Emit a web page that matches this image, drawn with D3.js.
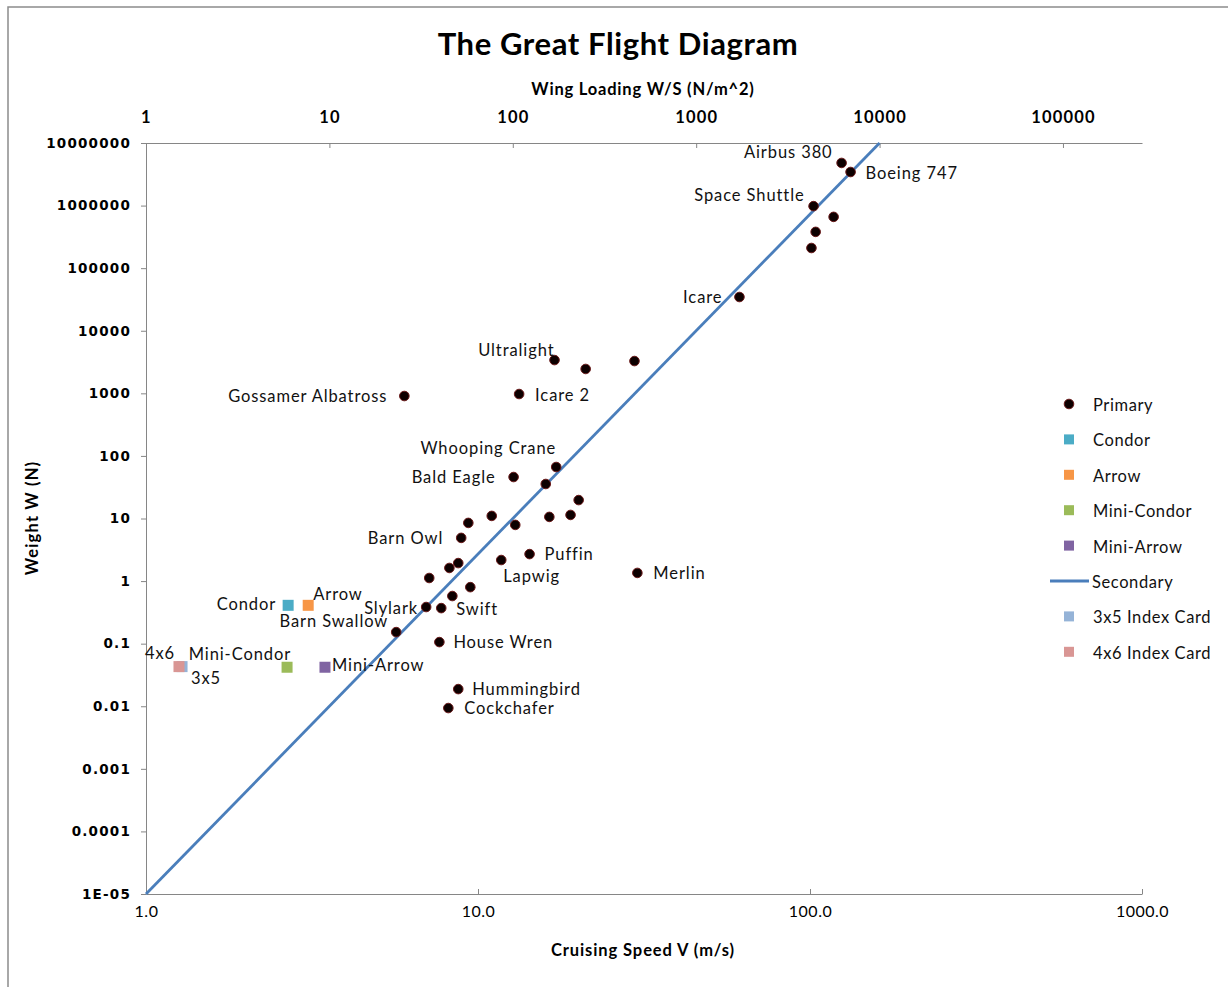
<!DOCTYPE html>
<html>
<head>
<meta charset="utf-8">
<script src="https://cdn.jsdelivr.net/npm/d3@7"></script>
<style>
  html, body { margin: 0; padding: 0; background: #fff; }
  svg { display: block; }
</style>
</head>
<body>
<svg id="chart" width="1228" height="987"></svg>
<script>
// ---------------- DATA ----------------
const primaryNames = [
  "Airbus 380", "Boeing 747", "Space Shuttle", "", "", "", "Icare",
  "Ultralight", "", "", "Icare 2", "Gossamer Albatross",
  "Whooping Crane", "Bald Eagle", "", "", "", "", "", "", "",
  "Barn Owl", "Puffin", "Lapwig", "", "", "", "", "", "Merlin",
  "Slylark", "Swift", "Barn Swallow", "House Wren", "Hummingbird", "Cockchafer"
];
const primarySpeed = [
  124.5, 132.5, 102.5, 117.8, 104, 101, 61.3,
  17.0, 21.1, 29.6, 13.3, 6.0,
  17.2, 12.8, 16.0, 20.1, 16.4, 19.0, 11.0, 9.35, 12.95,
  8.9, 14.3, 11.75, 8.72, 8.2, 7.13, 9.48, 8.37, 30.2,
  6.98, 7.75, 5.67, 7.65, 8.72, 8.14
];
const primaryWeight = [
  4.8e6, 3.44e6, 9.8e5, 6.6e5, 3.8e5, 2.1e5, 3.46e4,
  3400, 2450, 3280, 975, 906,
  66.5, 46, 35.6, 19.7, 10.6, 11.4, 11.0, 8.5, 7.9,
  4.9, 2.7, 2.17, 1.94, 1.62, 1.12, 0.80, 0.577, 1.35,
  0.385, 0.37, 0.153, 0.106, 0.0188, 0.00936
];

const condorSpeed = [2.68],      condorWeight = [0.41];
const arrowSpeed = [3.08],       arrowWeight = [0.41];
const miniCondorSpeed = [2.66],  miniCondorWeight = [0.042];
const miniArrowSpeed = [3.46],   miniArrowWeight = [0.042];
const card3x5Speed = [1.284],    card3x5Weight = [0.043];
const card4x6Speed = [1.257],    card4x6Weight = [0.043];

// Secondary series: wing loading (top axis) vs weight
const secondaryWingLoading = [1, 10000];
const secondaryWeight = [1e-5, 1e7];

const bottomTicks = [1, 10, 100, 1000];
const bottomTickLabels = ["1.0", "10.0", "100.0", "1000.0"];
const topTicks = [1, 10, 100, 1000, 10000, 100000];
const topTickLabels = ["1", "10", "100", "1000", "10000", "100000"];
const yTicks = [1e7, 1e6, 1e5, 1e4, 1e3, 100, 10, 1, 0.1, 0.01, 0.001, 0.0001, 1e-5];
const yTickLabels = ["10000000", "1000000", "100000", "10000", "1000", "100", "10", "1",
                     "0.1", "0.01", "0.001", "0.0001", "1E-05"];

const legendNames = ["Primary", "Condor", "Arrow", "Mini-Condor", "Mini-Arrow",
                     "Secondary", "3x5 Index Card", "4x6 Index Card"];

// ---------------- LAYOUT / STYLE ----------------
const colors = {
  Condor: "#4bacc6", Arrow: "#f79646", "Mini-Condor": "#9bbb59",
  "Mini-Arrow": "#8064a2", Secondary: "#4a7ebb",
  "3x5 Index Card": "#95b3d7", "4x6 Index Card": "#d99694"
};
const labelPlacement = {
  "Airbus 380": ["end", -9, -11], "Boeing 747": ["start", 15, 1],
  "Space Shuttle": ["end", -9, -11], "Icare": ["end", -17, 0],
  "Ultralight": ["end", 0, -10], "Icare 2": ["start", 16, 1],
  "Gossamer Albatross": ["end", -17, 0], "Whooping Crane": ["end", 0, -19],
  "Bald Eagle": ["end", -18, 0], "Barn Owl": ["end", -18, 0],
  "Puffin": ["start", 15, 0], "Lapwig": ["start", 2, 16],
  "Merlin": ["start", 16, 0], "Slylark": ["end", -8, 1],
  "Swift": ["start", 15, 1], "Barn Swallow": ["end", -8, -11],
  "House Wren": ["start", 14, 0], "Hummingbird": ["start", 14, 0],
  "Cockchafer": ["start", 16, 0],
  "Condor": ["end", -12, -1], "Arrow": ["start", 5, -11],
  "Mini-Condor": ["end", 4, -13], "Mini-Arrow": ["start", 7, -2],
  "4x6": ["end", -4, -14], "3x5": ["start", 9, 11]
};

const plot = { left: 146, right: 1142, top: 143, bottom: 894 };
const svg = d3.select("#chart");
const labelFont = "Lato, 'Open Sans', sans-serif";

const x = d3.scaleLog().domain([1, 1000]).range([plot.left, plot.right]);
const xTop = d3.scaleLog().domain([1, Math.pow(10, 5.431)]).range([plot.left, plot.right]);
const y = d3.scaleLog().domain([1e-5, 1e7]).range([plot.bottom, plot.top]);

// outer border
svg.append("rect").attr("x", 8).attr("y", 7).attr("width", 1240).attr("height", 1000)
  .attr("fill", "#fff").attr("stroke", "#8c8c8c").attr("stroke-width", 1.5);

// title
svg.append("text").attr("x", 618).attr("y", 55).attr("text-anchor", "middle")
  .attr("font-family", labelFont).attr("font-weight", "bold").attr("font-size", 31)
  .attr("letter-spacing", 0.6).attr("fill", "#000").text("The Great Flight Diagram");

// Axes
const axisColor = "#868686";
function styleAxis(g) {
  g.select(".domain").attr("stroke", axisColor).attr("stroke-width", 1);
  g.selectAll(".tick line").attr("stroke", axisColor);
}
const bottomAxis = d3.axisBottom(x).tickValues(bottomTicks)
  .tickFormat((d, i) => bottomTickLabels[i]).tickSizeInner(-5).tickSizeOuter(0).tickPadding(12);
svg.append("g").attr("transform", `translate(0,${plot.bottom})`).call(bottomAxis)
  .call(styleAxis)
  .call(g => g.selectAll("text").attr("font-family", labelFont).attr("font-size", 16)
    .attr("letter-spacing", 0.5).attr("fill", "#000"));

const topAxis = d3.axisTop(xTop).tickValues(topTicks)
  .tickFormat((d, i) => topTickLabels[i]).tickSizeInner(-5).tickSizeOuter(0).tickPadding(20);
svg.append("g").attr("transform", `translate(0,${plot.top})`).call(topAxis)
  .call(styleAxis)
  .call(g => g.selectAll("text").attr("font-family", labelFont).attr("font-weight", "bold")
    .attr("font-size", 16.5).attr("letter-spacing", 1.2).attr("fill", "#000"));

const leftAxis = d3.axisLeft(y).tickValues(yTicks)
  .tickFormat((d, i) => yTickLabels[i]).tickSizeInner(5).tickSizeOuter(0).tickPadding(10);
svg.append("g").attr("transform", `translate(${plot.left},0)`).call(leftAxis)
  .call(styleAxis)
  .call(g => g.selectAll("text").attr("font-family", "'DejaVu Sans', sans-serif")
    .attr("font-weight", "bold").attr("font-size", 13.5).attr("letter-spacing", 1.2)
    .attr("fill", "#000"));

// axis titles
svg.append("text").attr("x", 643).attr("y", 95).attr("text-anchor", "middle")
  .attr("font-family", labelFont).attr("font-weight", "bold").attr("font-size", 16.5)
  .attr("letter-spacing", 0.8).text("Wing Loading W/S (N/m^2)");
svg.append("text").attr("x", 643).attr("y", 956).attr("text-anchor", "middle")
  .attr("font-family", labelFont).attr("font-weight", "bold").attr("font-size", 16.5)
  .attr("letter-spacing", 0.9).text("Cruising Speed V (m/s)");
svg.append("text").attr("transform", "translate(38,518) rotate(-90)").attr("text-anchor", "middle")
  .attr("font-family", labelFont).attr("font-weight", "bold").attr("font-size", 16.5)
  .attr("letter-spacing", 1.2).text("Weight W (N)");

// Secondary line (top axis)
const lineData = secondaryWingLoading.map((d, i) => [d, secondaryWeight[i]]);
svg.append("path").datum(lineData)
  .attr("d", d3.line().x(d => xTop(d[0])).y(d => y(d[1])))
  .attr("fill", "none").attr("stroke", colors.Secondary).attr("stroke-width", 2.8);

// Primary points
const primary = primaryNames.map((n, i) => ({ name: n, v: primarySpeed[i], w: primaryWeight[i] }));
svg.append("g").selectAll("circle").data(primary).join("circle")
  .attr("cx", d => x(d.v)).attr("cy", d => y(d.w)).attr("r", 4.8)
  .attr("fill", "#0d0000").attr("stroke", "#6b1a1a").attr("stroke-width", 1);

// Square series
const squareSeries = [
  { name: "Condor", label: "Condor", v: condorSpeed, w: condorWeight },
  { name: "Arrow", label: "Arrow", v: arrowSpeed, w: arrowWeight },
  { name: "Mini-Condor", label: "Mini-Condor", v: miniCondorSpeed, w: miniCondorWeight },
  { name: "Mini-Arrow", label: "Mini-Arrow", v: miniArrowSpeed, w: miniArrowWeight },
  { name: "3x5 Index Card", label: "3x5", v: card3x5Speed, w: card3x5Weight },
  { name: "4x6 Index Card", label: "4x6", v: card4x6Speed, w: card4x6Weight }
];
const sq = 11;
squareSeries.forEach(s => {
  s.v.forEach((v, i) => {
    svg.append("rect").attr("x", x(v) - sq / 2).attr("y", y(s.w[i]) - sq / 2)
      .attr("width", sq).attr("height", sq).attr("fill", colors[s.name]);
  });
});

// Labels
function addLabel(name, px, py) {
  const p = labelPlacement[name];
  if (!p) return;
  svg.append("text").attr("x", px + p[1]).attr("y", py + p[2])
    .attr("text-anchor", p[0]).attr("dominant-baseline", "central")
    .attr("font-family", labelFont).attr("font-size", 16.5).attr("letter-spacing", 0.9)
    .attr("fill", "#111").text(name);
}
primary.forEach(d => { if (d.name) addLabel(d.name, x(d.v), y(d.w)); });
squareSeries.forEach(s => addLabel(s.label, x(s.v[0]), y(s.w[0])));

// Legend
const legend = svg.append("g");
const legX = 1069, legY0 = 404, legStep = 35.4;
legendNames.forEach((n, i) => {
  const cy = legY0 + i * legStep;
  if (n === "Primary") {
    legend.append("circle").attr("cx", legX).attr("cy", cy).attr("r", 4.8)
      .attr("fill", "#0d0000").attr("stroke", "#6b1a1a").attr("stroke-width", 1);
  } else if (n === "Secondary") {
    legend.append("line").attr("x1", legX - 19).attr("x2", legX + 20).attr("y1", cy).attr("y2", cy)
      .attr("stroke", colors.Secondary).attr("stroke-width", 2.8);
  } else {
    legend.append("rect").attr("x", legX - 5).attr("y", cy - 5).attr("width", 10).attr("height", 10)
      .attr("fill", colors[n]);
  }
  legend.append("text").attr("x", n === "Secondary" ? 1092 : 1093).attr("y", cy + 1)
    .attr("dominant-baseline", "central").attr("font-family", labelFont)
    .attr("font-size", 16.5).attr("letter-spacing", 0.6).attr("fill", "#111").text(n);
});
</script>
</body>
</html>
